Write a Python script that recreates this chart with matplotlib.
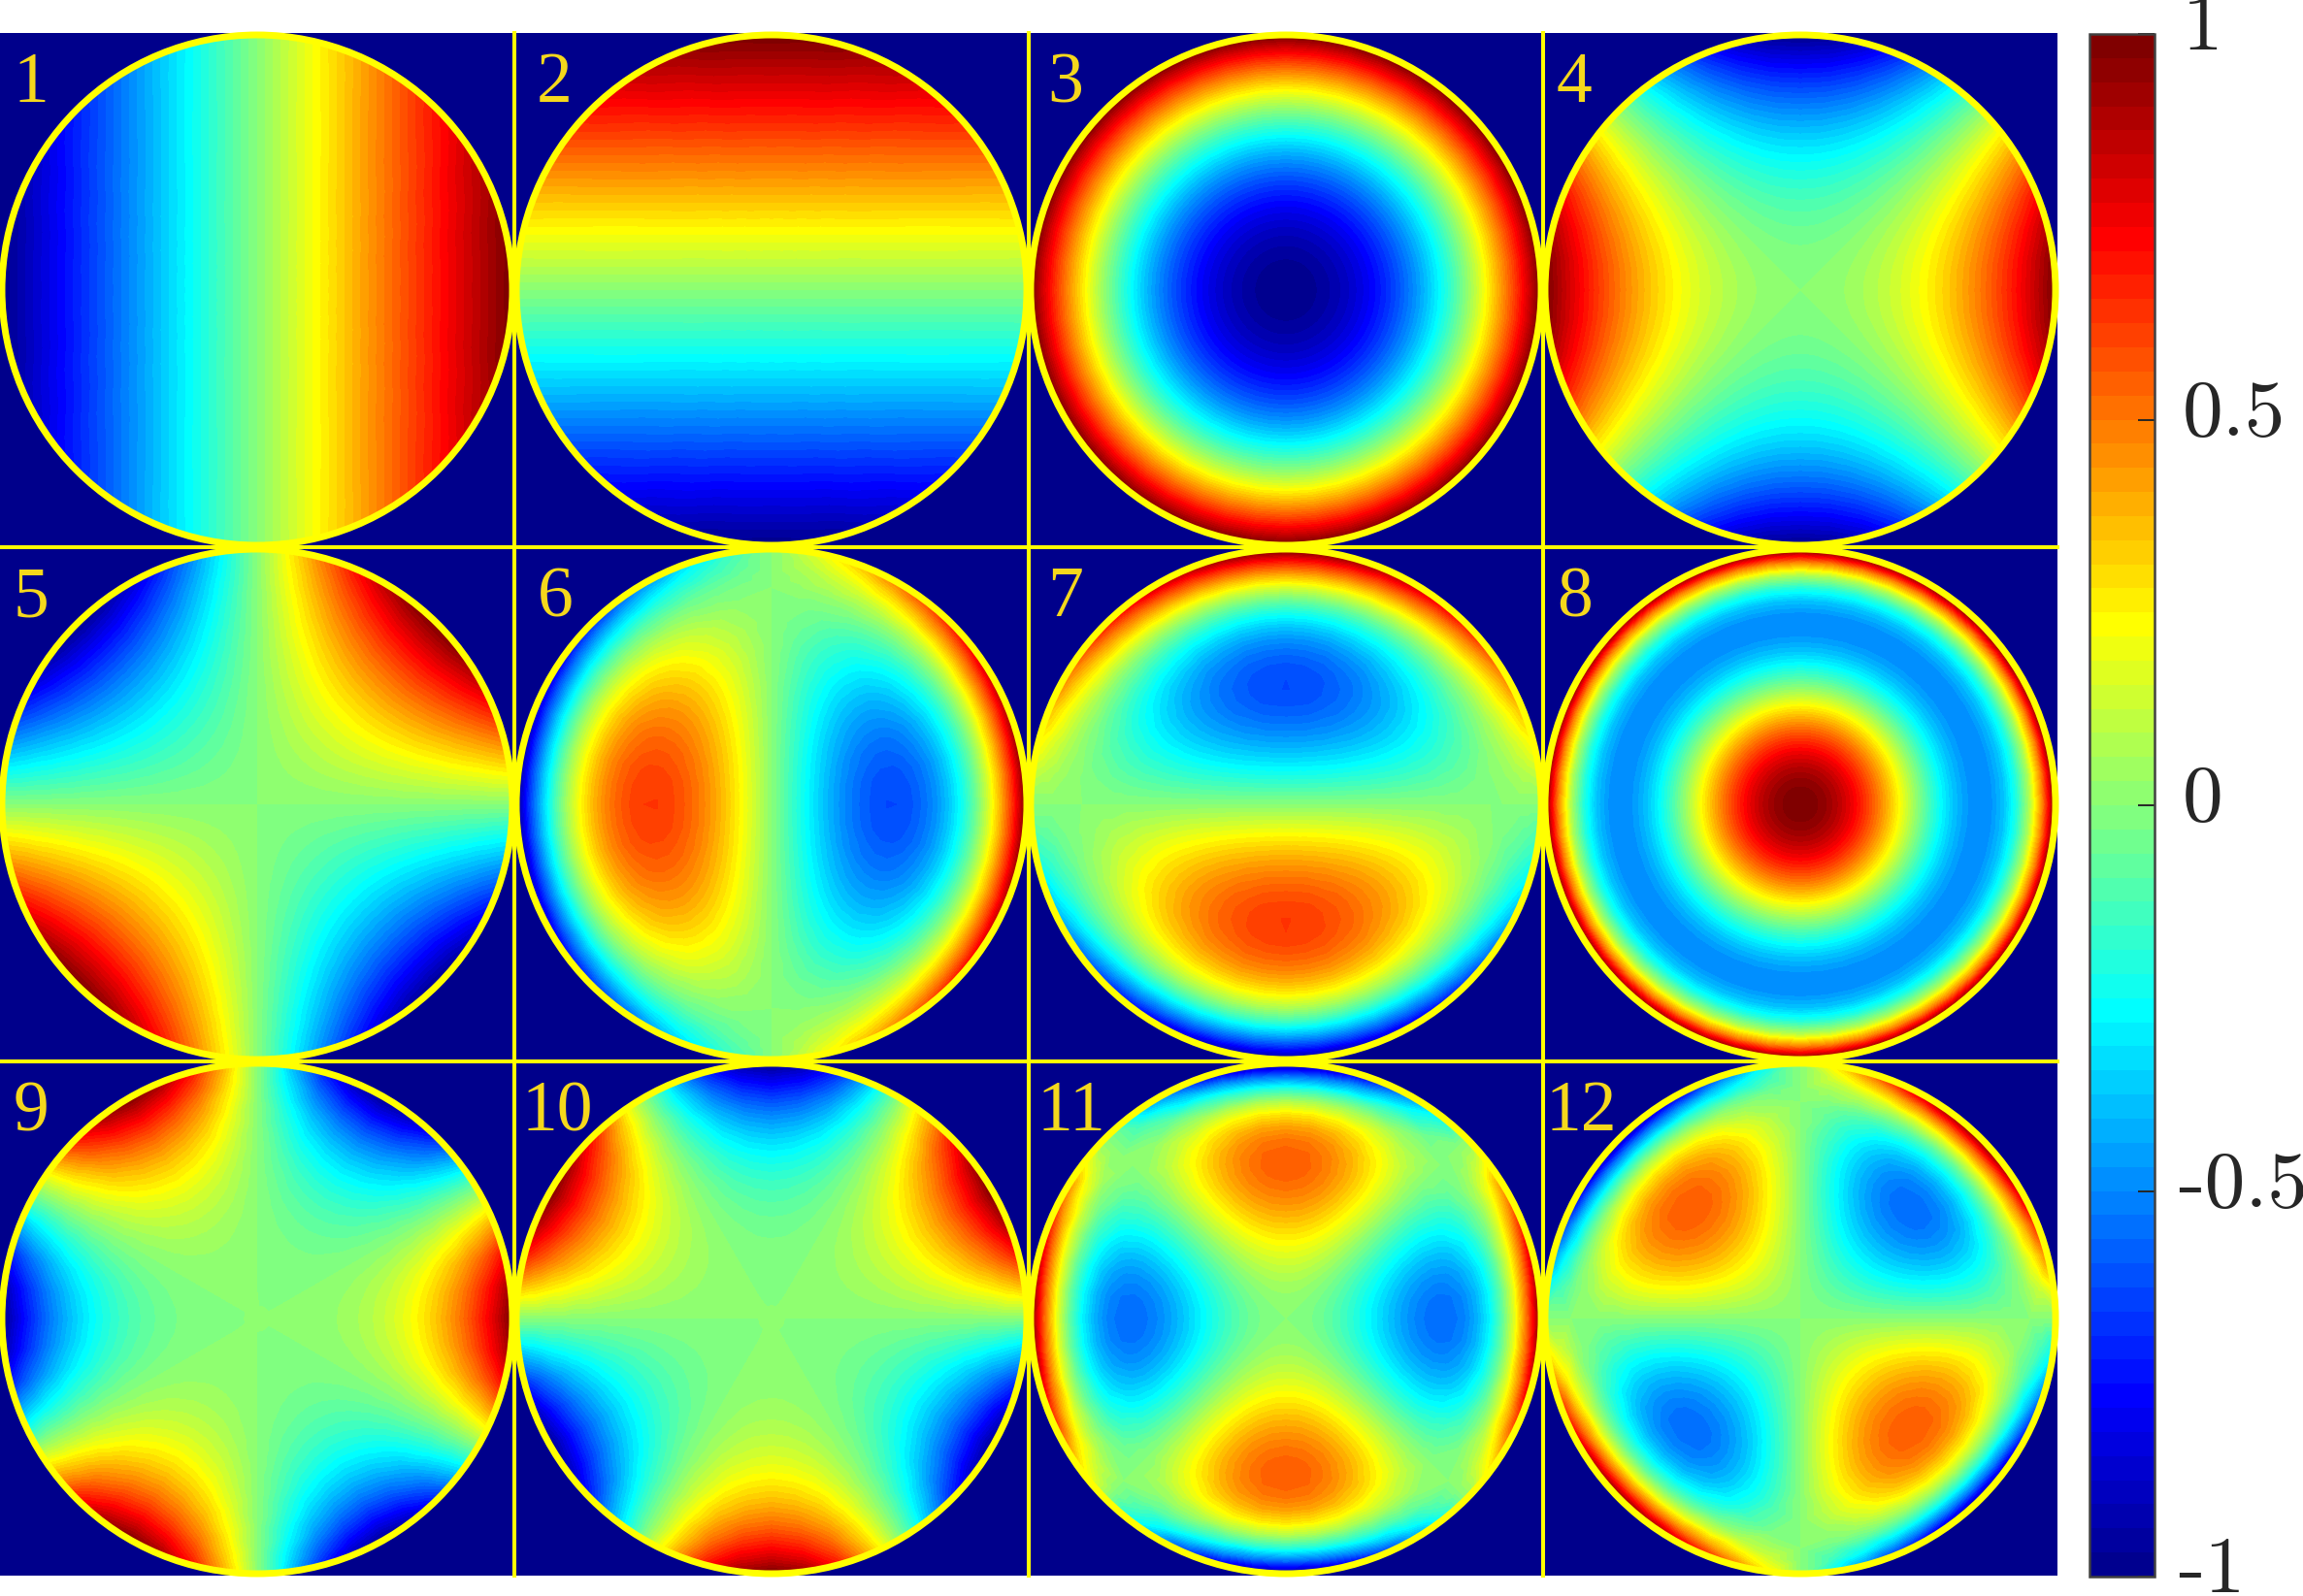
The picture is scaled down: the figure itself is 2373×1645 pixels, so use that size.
import matplotlib
matplotlib.use("Agg")
import matplotlib.pyplot as plt
import matplotlib.tri as mtri
import numpy as np
from matplotlib.cm import ScalarMappable
from matplotlib.colors import LinearSegmentedColormap, Normalize
from matplotlib.patches import Circle

# VALUES
# Radial profiles, sampled along the radius of the disc
radius = [0, .05, .10, .15, .20, .25, .30, .35, .40, .45, .50, .55, .60, .65, .70, .75, .80, .85, .90, .95, 1, 1.03]
profileTilt = [0, .05, .10, .15, .20, .25, .30, .35, .40, .45, .50, .55, .60, .65, .70, .75, .80, .85, .90, .95, 1, 1]
profileDefocus = [-1, -.995, -.98, -.955, -.92, -.875, -.82, -.755, -.68, -.595, -.5, -.395, -.28, -.155, -.02, .125, .28, .445, .62, .805, 1, 1]
profileAstig = [0, .003, .01, .023, .04, .063, .09, .123, .16, .203, .25, .303, .36, .423, .49, .563, .64, .723, .81, .903, 1, 1]
profileComa = [0, -.10, -.197, -.29, -.376, -.453, -.519, -.571, -.608, -.627, -.625, -.601, -.552, -.476, -.371, -.234, -.064, .142, .387, .672, 1, 1]
profileSpherical = [1, .985, .941, .868, .77, .648, .509, .355, .194, .031, -.125, -.266, -.382, -.464, -.499, -.477, -.382, -.203, .077, .472, 1, 1]
profileTrefoil = [0, 0, .001, .003, .008, .016, .027, .043, .064, .091, .125, .166, .216, .275, .343, .422, .512, .614, .729, .857, 1, 1]
profileSecondary = [0, -.008, -.03, -.066, -.114, -.172, -.238, -.307, -.378, -.443, -.5, -.541, -.562, -.553, -.51, -.422, -.282, -.079, .194, .551, 1, 1]

# Angular profiles, every 7.5 degrees around the disc
angleFlat = [1] * 48
angleCos1 = [1, .99, .97, .92, .87, .79, .71, .61, .5, .38, .26, .13, 0, -.13, -.26, -.38, -.5, -.61, -.71, -.79, -.87, -.92, -.97, -.99,
             -1, -.99, -.97, -.92, -.87, -.79, -.71, -.61, -.5, -.38, -.26, -.13, 0, .13, .26, .38, .5, .61, .71, .79, .87, .92, .97, .99]
angleSin1 = [0, .13, .26, .38, .5, .61, .71, .79, .87, .92, .97, .99, 1, .99, .97, .92, .87, .79, .71, .61, .5, .38, .26, .13,
             0, -.13, -.26, -.38, -.5, -.61, -.71, -.79, -.87, -.92, -.97, -.99, -1, -.99, -.97, -.92, -.87, -.79, -.71, -.61, -.5, -.38, -.26, -.13]
angleCos2 = [1, .97, .87, .71, .5, .26, 0, -.26, -.5, -.71, -.87, -.97, -1, -.97, -.87, -.71, -.5, -.26, 0, .26, .5, .71, .87, .97] * 2
angleSin2 = [0, .26, .5, .71, .87, .97, 1, .97, .87, .71, .5, .26, 0, -.26, -.5, -.71, -.87, -.97, -1, -.97, -.87, -.71, -.5, -.26] * 2
angleCos3 = [1, .92, .71, .38, 0, -.38, -.71, -.92, -1, -.92, -.71, -.38, 0, .38, .71, .92] * 3
angleSin3 = [0, .38, .71, .92, 1, .92, .71, .38, 0, -.38, -.71, -.92, -1, -.92, -.71, -.38] * 3

panelRadial = [profileTilt, profileTilt, profileDefocus, profileAstig, profileAstig, profileComa,
               profileComa, profileSpherical, profileTrefoil, profileTrefoil, profileSecondary, profileSecondary]
panelAngular = [angleCos1, angleSin1, angleFlat, angleCos2, angleSin2, angleCos1,
                angleSin1, angleFlat, angleCos3, angleSin3, angleCos2, angleSin2]
panelLabels = ["1", "2", "3", "4", "5", "6", "7", "8", "9", "10", "11", "12"]
cbarTicks = [-1, -.5, 0, .5, 1]
cbarLabels = ["-1", "-0.5", "0", "0.5", "1"]

# LAYOUT (in pixels of the output picture)
W, H = 2373, 1645
panelSize = 530
panelTop = 34
circleRadius = 263
labelCentre = [32, 41, 38, 32, 32, 42, 38, 33, 32, 44, 44, 39]
labelBaseline = 71
yellow = "#FFFF00"
labelColor = "#F5D81C"
background = "#00008B"

# COLORMAP
# 64 steps of the jet map, with yellow at row 40 and full red at row 56
jet64 = LinearSegmentedColormap.from_list("jet64", [
    (0, (0, 0, .5625)), (7 / 63, (0, 0, 1)), (23 / 63, (0, 1, 1)),
    (39 / 63, (1, 1, 0)), (55 / 63, (1, 0, 0)), (1, (.5, 0, 0))], N=64)
norm = Normalize(-1, 1)
levels = np.linspace(-1, 1, 65)

# MESH OF THE DISC
r = np.array(radius)
theta = np.deg2rad(np.arange(48) * 7.5)
rr, tt = np.meshgrid(r[1:], theta)
x = np.r_[0, (rr * np.cos(tt)).ravel()]
y = np.r_[0, (rr * np.sin(tt)).ravel()]
mesh = mtri.Triangulation(x, y)

fig = plt.figure(figsize=(W / 100, H / 100), dpi=100)

# PANELS
limit = panelSize / 2 / circleRadius
for i in range(12):
    row, col = divmod(i, 4)
    ax = fig.add_axes([col * panelSize / W, 1 - (panelTop + (row + 1) * panelSize) / H,
                       panelSize / W, panelSize / H], facecolor=background)
    radial = np.array(panelRadial[i])
    angular = np.array(panelAngular[i])
    z = np.outer(angular, radial[1:]).T.ravel(order="F")
    z = np.r_[radial[0] * angular[0], z]
    cs = ax.tricontourf(mesh, z, levels=levels, cmap=jet64, norm=norm, extend="both")
    cs.set_clip_path(Circle((0, 0), 1, transform=ax.transData))
    ax.add_patch(Circle((0, 0), 1, fill=False, ec=yellow, lw=5, clip_on=False, zorder=5))
    ax.set_xlim(-limit, limit)
    ax.set_ylim(-limit, limit)
    ax.set_xticks([])
    ax.set_yticks([])
    ax.spines["left"].set_visible(col > 0)
    ax.spines["right"].set_visible(col < 3)
    ax.spines["top"].set_visible(row > 0)
    ax.spines["bottom"].set_visible(row < 2)
    for spine in ax.spines.values():
        spine.set_color(yellow)
        spine.set_linewidth(2.9)
    ax.text(-limit + labelCentre[i] / circleRadius, limit - labelBaseline / circleRadius, panelLabels[i],
            color=labelColor, family="Liberation Serif", fontsize=53, ha="center", va="baseline", zorder=6)

# COLORBAR
cax = fig.add_axes([2153 / W, 1 - 1625 / H, 67 / W, 1590 / H])
cbar = fig.colorbar(ScalarMappable(norm=norm, cmap=jet64), cax=cax, ticks=cbarTicks)
cbar.outline.set_edgecolor("#404040")
cbar.outline.set_linewidth(1.8)
cax.tick_params(direction="in", length=12, width=1.4, color="#262626", labelright=False)
for tick, label in zip(cbarTicks, cbarLabels):
    dx = 17.5 if tick < 0 else 20.5
    cax.annotate(label, (1, tick), xycoords=cax.get_yaxis_transform(), xytext=(dx, 3), textcoords="offset points",
                 family="cmr10", fontsize=60, color="#262626", ha="left", va="center", annotation_clip=False)

# SAVING PNG
fig.savefig("out.png", dpi=100)
